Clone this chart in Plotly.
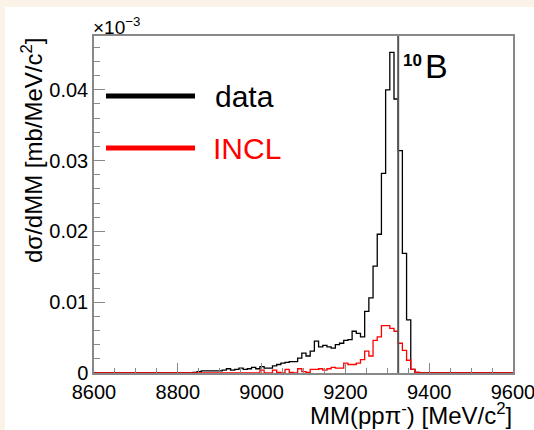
import numpy as np
import plotly.graph_objects as go

# ---- data ----
bin_width = 10.0
first_edge = 8596.0
n_bins = 101
edges = first_edge + bin_width * np.arange(n_bins + 1)

# data histogram: values (x1e-3 scaled as on the axis) starting at bin index 24
data_start = 24
data_vals = [0.0001, 0.0002, 0.0003, 0.0003, 0.0003, 0.0003, 0.0003, 0.0004, 0.0006, 0.0004,
             0.0005, 0.0007, 0.0005, 0.0006, 0.0008, 0.0006, 0.0009, 0.0007, 0.0007, 0.0010,
             0.0012, 0.0014, 0.0015, 0.0016, 0.0016, 0.0021, 0.0028, 0.0024, 0.0031, 0.0045,
             0.0037, 0.0039, 0.0037, 0.0035, 0.0040, 0.0042, 0.0046, 0.0047, 0.0059, 0.0056,
             0.0051, 0.0087, 0.0106, 0.0151, 0.0196, 0.0282, 0.0400, 0.0453, 0.0387, 0.0314,
             0.0169, 0.0075, 0.0005, 0.0001]

# INCL histogram starting at bin index 40
incl_start = 40
incl_vals = [0.0004, 0.0, 0.0, 0.0004, 0.0001, 0.0, 0.0005, 0.0001, 0.0, 0.0006,
             0.0002, 0.0001, 0.0005, 0.0005, 0.0006, 0.0004, 0.0006, 0.0008, 0.0007, 0.0007,
             0.0014, 0.0012, 0.0012, 0.0014, 0.0019, 0.0031, 0.0024, 0.0046, 0.0051, 0.0067,
             0.0067, 0.0063, 0.0059, 0.0042, 0.0032, 0.0018, 0.0005, 0.0001]

mass_line = 9326.0
x_ticks = [8600, 8800, 9000, 9200, 9400, 9600]
y_ticks = [0, 0.01, 0.02, 0.03, 0.04]
y_tick_text = ["0", "0.01", "0.02", "0.03", "0.04"]


def full_hist(start, vals):
    h = np.zeros(n_bins)
    h[start:start + len(vals)] = vals
    return h


h_data = full_hist(data_start, data_vals)
h_incl = full_hist(incl_start, incl_vals)

FONT = "Liberation Sans, Arial, Helvetica, sans-serif"
W, H = 534, 430
ML, MR, MT, MB = 94, 21, 36, 57
PW, PH = W - ML - MR, H - MT - MB


def px(xp):
    return (xp - ML) / PW


def py(yp):
    return (H - MB - yp) / PH


fig = go.Figure()
fig.add_trace(go.Scatter(x=edges, y=np.append(h_data, h_data[-1]), mode="lines",
                         line=dict(shape="hv", color="black", width=1.3),
                         hoverinfo="skip", showlegend=False))
fig.add_trace(go.Scatter(x=edges, y=np.append(h_incl, h_incl[-1]), mode="lines",
                         line=dict(shape="hv", color="#ff0000", width=1.3),
                         hoverinfo="skip", showlegend=False))

shapes = [
    # cream page border (top / left)
    dict(type="rect", xref="paper", yref="paper", x0=px(0), x1=px(W), y0=py(0), y1=py(7),
         fillcolor="#FCF3E8", line=dict(width=0), layer="below"),
    dict(type="rect", xref="paper", yref="paper", x0=px(0), x1=px(5), y0=py(H), y1=py(0),
         fillcolor="#FCF3E8", line=dict(width=0), layer="below"),
    # 10B mass line
    dict(type="line", xref="x", yref="paper", x0=mass_line, x1=mass_line, y0=0, y1=1,
         line=dict(color="#555555", width=2)),
    # legend lines
    dict(type="line", xref="paper", yref="paper", x0=px(106), x1=px(195), y0=py(96), y1=py(96),
         line=dict(color="black", width=5)),
    dict(type="line", xref="paper", yref="paper", x0=px(106), x1=px(195), y0=py(148), y1=py(148),
         line=dict(color="#ff0000", width=5)),
]

annotations = [
    dict(text="data", x=px(213), y=py(96), xref="paper", yref="paper", xanchor="left",
         yanchor="middle", showarrow=False, font=dict(family=FONT, size=30, color="black")),
    dict(text="INCL", x=px(211), y=py(148), xref="paper", yref="paper", xanchor="left",
         yanchor="middle", showarrow=False, font=dict(family=FONT, size=30, color="#ff0000")),
    dict(text="<b>10</b>", x=px(401), y=py(60), xref="paper", yref="paper", xanchor="left",
         yanchor="middle", showarrow=False, font=dict(family=FONT, size=17, color="black")),
    dict(text="B", x=px(423), y=py(66), xref="paper", yref="paper", xanchor="left",
         yanchor="middle", showarrow=False, font=dict(family=FONT, size=34, color="black")),
    dict(text="×10<sup>−3</sup>", x=px(91), y=py(26), xref="paper", yref="paper", xanchor="left",
         yanchor="middle", showarrow=False, font=dict(family=FONT, size=19, color="black")),
    dict(text="MM(ppπ<sup>-</sup>) [MeV/c<sup>2</sup>]", x=px(514), y=py(414), xref="paper",
         yref="paper", xanchor="right", yanchor="middle", showarrow=False,
         font=dict(family=FONT, size=24, color="black")),
    dict(text="dσ/dMM [mb/MeV/c<sup>2</sup>]", x=px(32), y=py(35), xref="paper", yref="paper",
         xanchor="center", yanchor="top", textangle=-90, showarrow=False,
         font=dict(family=FONT, size=24, color="black")),
]

fig.update_layout(
    width=W, height=H,
    margin=dict(l=ML, r=MR, t=MT, b=MB, pad=0, autoexpand=False),
    paper_bgcolor="white", plot_bgcolor="white",
    shapes=shapes, annotations=annotations,
    font=dict(family=FONT, color="black"),
    xaxis=dict(range=[8600, 9600], tickvals=x_ticks, ticktext=[str(v) for v in x_ticks],
               ticks="inside", ticklen=10, tickcolor="#888888", tickwidth=1,
               ticklabeloverflow="allow", automargin=False,
               minor=dict(dtick=50, tick0=8600, ticks="inside", ticklen=5, tickcolor="#888888"),
               showline=True, linecolor="#888888", linewidth=1.5, mirror=True,
               showgrid=False, zeroline=False, tickfont=dict(family=FONT, size=20, color="black")),
    yaxis=dict(range=[0, 0.0476], tickvals=y_ticks, ticktext=y_tick_text,
               ticks="inside", ticklen=11, tickcolor="#888888", tickwidth=1,
               ticklabeloverflow="allow", automargin=False,
               minor=dict(dtick=0.002, tick0=0, ticks="inside", ticklen=6, tickcolor="#888888"),
               showline=True, linecolor="#888888", linewidth=1.5, mirror=True,
               showgrid=False, zeroline=False, tickfont=dict(family=FONT, size=20, color="black")),
)

fig.write_html("out.html")
